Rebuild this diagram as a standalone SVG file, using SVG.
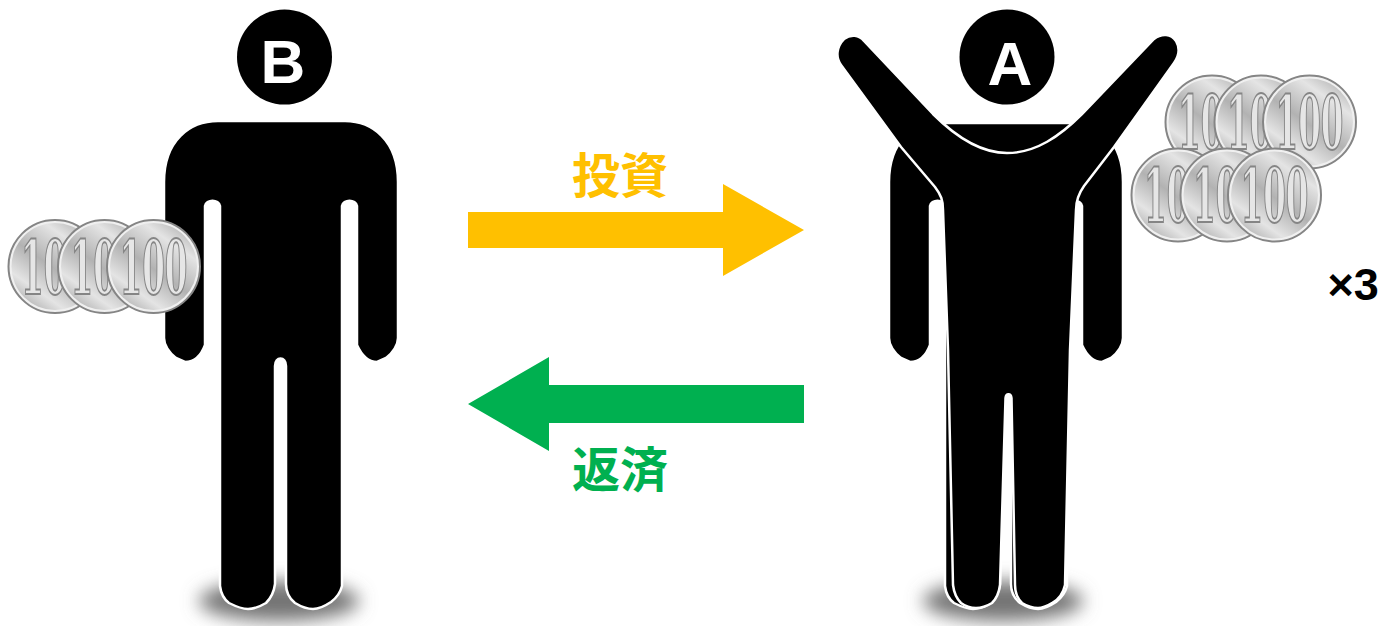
<svg xmlns="http://www.w3.org/2000/svg" width="1383" height="626" viewBox="0 0 1383 626">
<style>
.fig{fill:#000;stroke:#fff;stroke-width:2.500;stroke-linejoin:round}
.head{fill:#000}
.letter{font-family:"Liberation Sans",Arial,sans-serif;font-weight:700;font-size:62px;fill:#fff;text-anchor:middle}
.cn{font-family:"Noto Sans CJK JP","Noto Sans CJK SC",sans-serif;font-weight:700;font-size:48px;text-anchor:middle}
.digits{font-family:"DejaVu Serif",serif;font-weight:700;font-size:74px;fill:#e6e6e6;stroke:#858585;stroke-width:2px;text-anchor:middle}
</style>
<defs>
<linearGradient id="silver2" x1="0.85" y1="0" x2="0.15" y2="1">
<stop offset="0" stop-color="#aeaeae"/><stop offset="0.22" stop-color="#e4e4e4"/><stop offset="0.52" stop-color="#b2b2b2"/><stop offset="0.78" stop-color="#e4e4e4"/><stop offset="1" stop-color="#a8a8a8"/>
</linearGradient>
<filter id="blur" x="-30%" y="-80%" width="160%" height="260%"><feGaussianBlur stdDeviation="9"/></filter>
<g id="coin">
<circle r="46.500" fill="#f0f0f0" stroke="#858585" stroke-width="2"/>
<circle r="43.500" fill="url(#silver2)"/>
<text class="digits" transform="translate(0,27) scale(0.44,1)">100</text>
</g>
<path id="standing" class="fig" d="M218,121 H345 C372,121 398,140 398,182 V338 C398,345 393,353 386,358 L377,362 C368,362 362,356 357,345 V206 C356,199 343,199 342,206 V586 C340,594 335,599 331,602 C325,606 319,609 313,609 C306,609 300,606 295,603 C290,599 286,592 286,584 V366 C286,356 275,356 275,366 V584 C274,592 271,598 266,603 C261,606 255,609 248,609 C241,609 235,606 229,603 C225,600 221,594 220,586 V206 C219,199 206,199 205,206 V345 C201,356 194,362 185,362 L176,358 C169,353 164,345 164,338 V182 C164,140 190,121 218,121 Z"/>
</defs>
<g id="person-b">
<ellipse cx="279" cy="601" rx="80" ry="20" fill="#747474" filter="url(#blur)"/>
<use href="#standing"/>
<circle class="head" cx="284.500" cy="57" r="47.500"/>
<text class="letter" x="283" y="83">B</text>
<use href="#coin" x="55" y="266.500"/>
<use href="#coin" x="104.500" y="266.500"/>
<use href="#coin" x="153.500" y="266.500"/>
</g>
<g id="person-a">
<ellipse cx="1003" cy="601" rx="80" ry="20" fill="#747474" filter="url(#blur)"/>
<use href="#standing" x="725"/>
<path class="fig" d="M943,123 H1072 L1072,240 H943 Z"/>
<path class="fig" d="M864,41 L933,114 C955,136 980,153 1007,153 C1036,153 1060,136 1082,114 L1154,39 C1162,33 1171,34 1176,41 C1180,48 1179,56 1174,63 L1114,147 L1084,186 C1079,193 1076,200 1076,210 L1070,350 L1065,585 C1063,594 1058,600 1052,603 C1047,606 1043,608 1038,608 C1032,608 1027,606 1022,603 C1018,599 1015,593 1015,585 L1011.500,398 C1011,393 1006,393 1005.500,398 L1000,585 C999,593 996,599 992,603 C987,606 982,608 976,608 C970,608 965,606 961,603 C957,599 954,593 953,585 L948,350 L943,210 C943,200 941,195 935,187 L901,147 L841,65 C835,57 837,46 844,39 C851,34 859,35 864,41 Z"/>
<circle class="head" cx="1007" cy="57" r="47.500"/>
<text class="letter" x="1010" y="85">A</text>
<use href="#coin" x="1212" y="122"/>
<use href="#coin" x="1261" y="122"/>
<use href="#coin" x="1309.500" y="122"/>
<use href="#coin" x="1178" y="195"/>
<use href="#coin" x="1227" y="195"/>
<use href="#coin" x="1274.500" y="195"/>
<text x="1327.500" y="300" font-family="'Liberation Sans',Arial,sans-serif" font-weight="700" font-size="45" fill="#000">×3</text>
</g>
<g id="connectors">
<polygon fill="#FFC000" points="468,212 723,212 723,184 804,230 723,276 723,248 468,248"/>
<polygon fill="#00B050" points="804,385 549,385 549,357 468,404 549,451 549,423 804,423"/>
</g>
<g id="labels">
<text class="cn" x="620" y="193" fill="#FFC000">投資</text>
<text class="cn" x="620" y="487" fill="#00B050">返済</text>
</g>
</svg>
